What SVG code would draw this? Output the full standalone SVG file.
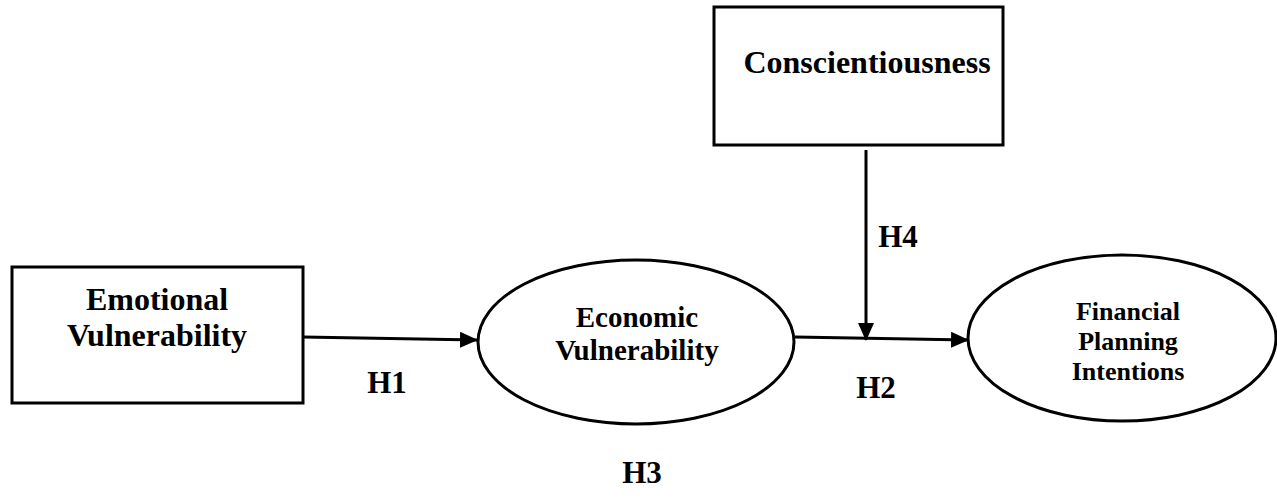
<svg xmlns="http://www.w3.org/2000/svg" width="1277" height="498" viewBox="0 0 1277 498">
<style>
.shape{fill:#fff;stroke:#000;stroke-width:3}
.t{font-family:"Liberation Serif","Times New Roman",serif;font-weight:bold;fill:#000;text-anchor:middle}
.h{font-size:31px}
.line{stroke:#000;stroke-width:3;fill:none}
</style>
<defs>
<marker id="arrow" markerWidth="18" markerHeight="18" refX="17" refY="9" orient="auto" markerUnits="userSpaceOnUse" viewBox="0 0 18 18">
<path d="M0,1 L18,9 L0,17 Z" fill="#000"/>
</marker>
</defs>
<rect width="1277" height="498" fill="#fff"/>
<g id="connectors">
<line class="line" x1="303" y1="337" x2="477" y2="340" marker-end="url(#arrow)"/>
<line class="line" x1="795" y1="337" x2="968" y2="340" marker-end="url(#arrow)"/>
<line class="line" x1="866" y1="150" x2="866" y2="340" marker-end="url(#arrow)"/>
</g>
<g id="emotional">
<rect class="shape" x="12" y="267" width="291" height="136"/>
<text class="t" x="157" y="310" font-size="32">Emotional</text>
<text class="t" x="157" y="346" font-size="32">Vulnerability</text>
</g>
<g id="economic">
<ellipse class="shape" cx="636" cy="342" rx="158" ry="82"/>
<text class="t" x="637" y="327" font-size="29">Economic</text>
<text class="t" x="637" y="360" font-size="29">Vulnerability</text>
</g>
<g id="conscientiousness">
<rect class="shape" x="714" y="7" width="289" height="138"/>
<text class="t" x="867" y="73" font-size="32">Conscientiousness</text>
</g>
<g id="financial">
<ellipse class="shape" cx="1122" cy="338" rx="154" ry="83"/>
<text class="t" x="1128" y="320" font-size="26">Financial</text>
<text class="t" x="1128" y="350" font-size="26">Planning</text>
<text class="t" x="1128" y="380" font-size="26">Intentions</text>
</g>
<g id="labels">
<text class="t h" x="387" y="393">H1</text>
<text class="t h" x="876" y="398">H2</text>
<text class="t h" x="642" y="483">H3</text>
<text class="t h" x="898" y="247">H4</text>
</g>
</svg>
